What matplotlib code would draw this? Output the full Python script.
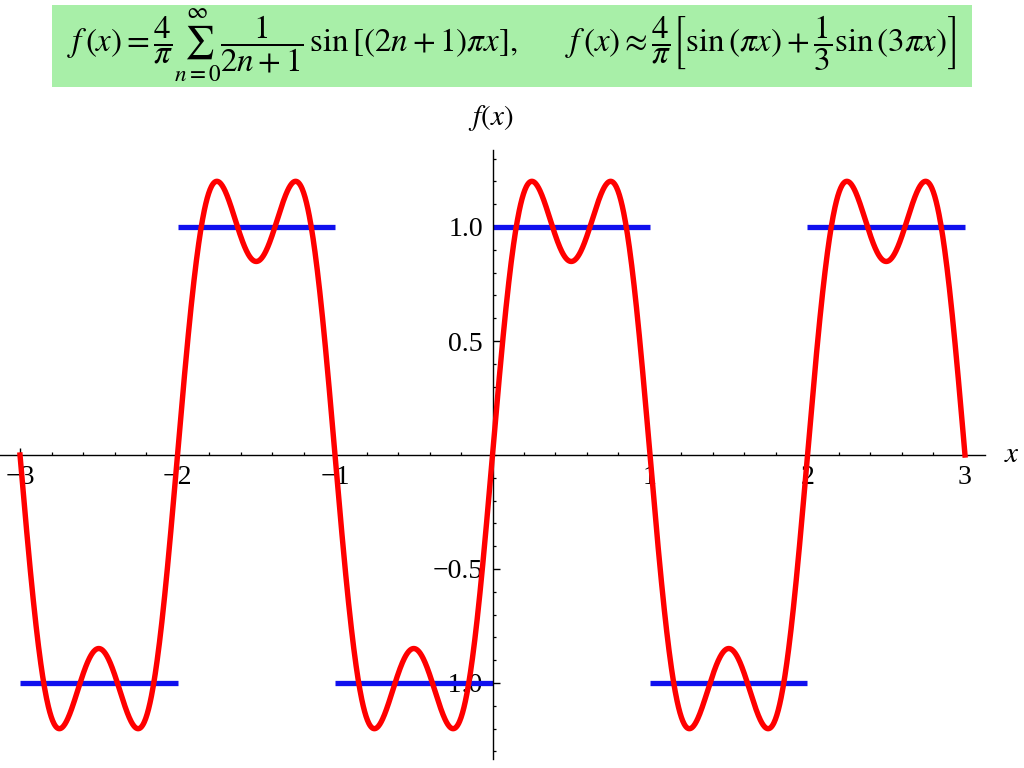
import numpy as np
import matplotlib
matplotlib.use("Agg")
import matplotlib.pyplot as plt
from matplotlib.patches import Rectangle

# Data
harmonics = [1, 3]            # sin(k*pi*x) terms in the approximation
amplitudes = [1.0, 1.0 / 3.0] # their weights (times 4/pi)
square_levels = [-1, 1, -1, 1, -1, 1]
square_starts = [-3, -2, -1, 0, 1, 2]
square_ends = [-2, -1, 0, 1, 2, 3]
xticks = [-3, -2, -1, 1, 2, 3]
yticks = [-1.0, -0.5, 0.5, 1.0]

plt.rcParams['mathtext.fontset'] = 'stix'
plt.rcParams['font.family'] = ['Liberation Serif', 'DejaVu Serif']

fig = plt.figure(figsize=(10.24, 7.68), dpi=100)

# Green formula banner
fig.patches.append(Rectangle((52/1024, 1 - 87/768), 920/1024, 82/768,
                             transform=fig.transFigure, facecolor='#a8efa8',
                             edgecolor='none', zorder=0))
fig.text(512/1024, 1 - 46/768,
         r"$f\,(x) = \dfrac{4}{\pi}\sum_{n=0}^{\infty}\dfrac{1}{2n+1}\,\sin\left[\left(2n+1\right)\pi x\right],\qquad f\,(x) \approx \dfrac{4}{\pi}\left[\sin\left(\pi x\right)+\dfrac{1}{3}\sin\left(3\pi x\right)\right]$",
         ha='center', va='center', fontsize=23.8)

top_px, bot_px = 150, 759
ax = fig.add_axes([0, 1 - bot_px/768, 985/1024, (bot_px - top_px)/768])
ax.set_xlim(-3.127, 3.127)
y0 = 455
scale = 228.0
ax.set_ylim(-(bot_px - y0)/scale, (y0 - top_px)/scale)

x = np.linspace(-3, 3, 2000)
y = np.zeros_like(x)
for k, a in zip(harmonics, amplitudes):
    y += a * np.sin(k * np.pi * x)
y *= 4 / np.pi

for s, e, lv in zip(square_starts, square_ends, square_levels):
    ax.plot([s, e], [lv, lv], color='#1010ee', lw=3.8, solid_capstyle='butt', zorder=2)
ax.plot(x, y, color='#ff0000', lw=3.9, zorder=3)

for side in ['top', 'right']:
    ax.spines[side].set_visible(False)
ax.spines['left'].set_position(('data', 0))
ax.spines['bottom'].set_position(('data', 0))
ax.spines['left'].set_linewidth(1.0)
ax.spines['bottom'].set_linewidth(1.0)
ax.patch.set_alpha(0)

ax.set_xticks(xticks)
ax.set_xticklabels([f"{t:d}".replace('-', '\u2212') for t in xticks])
ax.set_xticks(np.arange(-3, 3.01, 0.2), minor=True)
ax.set_yticks(yticks)
ax.set_yticklabels([f"{t:.1f}".replace('-', '\u2212') for t in yticks])
ax.set_yticks(np.arange(-1.3, 1.31, 0.1), minor=True)
ax.tick_params(axis='both', which='major', direction='in', length=5, width=1,
               labelsize=20)
ax.tick_params(axis='both', which='minor', direction='in', length=2.5, width=0.9)
ax.tick_params(axis='x', which='major', pad=7)
ax.tick_params(axis='y', which='major', pad=7)

fig.text(1012/1024, 1 - 455/768, r"$x$", ha='center', va='center', fontsize=21)
fig.text(491/1024, 1 - 118/768, r"$f(x)$", ha='center', va='center', fontsize=21)

fig.savefig("out.png", dpi=100)
